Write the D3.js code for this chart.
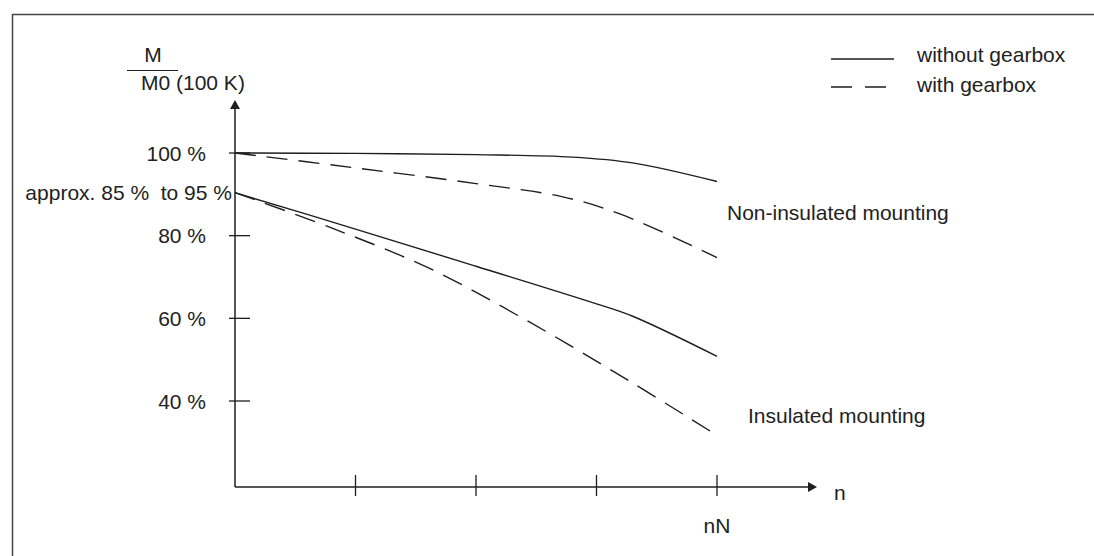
<!DOCTYPE html>
<html>
<head>
<meta charset="utf-8">
<script src="https://cdn.jsdelivr.net/npm/d3@7"></script>
<style>
  html, body { margin: 0; padding: 0; background: #fff; overflow: hidden; }
  svg text { font-family: "Liberation Sans", Arial, sans-serif; font-size: 21px; fill: #222; white-space: pre; }
</style>
</head>
<body>
<svg id="chart" width="1094" height="556"></svg>
<script>
// ---- data ----
const xTickValues = [1, 2, 3, 4];
const yTickValues = [100, 80, 60, 40];
const yTickLabels = ["100 %", "80 %", "60 %", "40 %"];
const startLabel = "approx. 85 %  to 95 %";
const seriesNames = ["without gearbox", "with gearbox"];
const nonInsulatedWithout = [[0, 100], [1, 99.9], [2, 99.6], [2.8, 99.0], [3.3, 97.6], [4, 93.1]];
const nonInsulatedWith = [[0, 100], [1, 96.4], [2, 92.6], [2.72, 89.4], [3.2, 85.2], [4, 74.7]];
const insulatedWithout = [[0, 90.4], [1, 81.6], [2, 72.6], [3, 63.5], [3.3, 60.5], [4, 50.8]];
const insulatedWith = [[0, 90.4], [0.79, 82.0], [1.62, 72.0], [2.45, 59.0], [3.28, 44.7], [3.95, 32.6]];
const axisBaseValue = 19.2;   // y value where the n-axis sits
const xAxisEnd = 4.83;        // arrow tip of n-axis
const yAxisTop = 112.8;       // arrow tip of M/M0 axis

// ---- layout ----
const svg = d3.select("#chart");
const x = d3.scaleLinear().domain([0, 4]).range([235, 717]);
const y = d3.scaleLinear().domain([40, 100]).range([401, 153]);
const ink = "#1e1e1e";

// frame
svg.append("path").attr("d", "M12.5,600 V14.5 H1200")
  .attr("fill", "none").attr("stroke", "#444").attr("stroke-width", 1.5);

// axes lines
const x0 = x(0), yb = y(axisBaseValue);
svg.append("line").attr("x1", x0).attr("y1", yb).attr("x2", x(xAxisEnd) - 8).attr("y2", yb)
  .attr("stroke", ink).attr("stroke-width", 1.5);
svg.append("path").attr("d", `M${x(xAxisEnd)},${yb} L${x(xAxisEnd) - 9},${yb - 5} L${x(xAxisEnd) - 9},${yb + 5} Z`).attr("fill", ink);
svg.append("line").attr("x1", x0).attr("y1", yb).attr("x2", x0).attr("y2", y(yAxisTop) + 8)
  .attr("stroke", ink).attr("stroke-width", 1.5);
svg.append("path").attr("d", `M${x0},${y(yAxisTop)} L${x0 - 5},${y(yAxisTop) + 9} L${x0 + 5},${y(yAxisTop) + 9} Z`).attr("fill", ink);

// x ticks
svg.selectAll(".xt").data(xTickValues).join("line")
  .attr("x1", d => x(d)).attr("x2", d => x(d)).attr("y1", yb - 12).attr("y2", yb + 9)
  .attr("stroke", ink).attr("stroke-width", 1.3);
// y ticks
svg.selectAll(".yt").data(yTickValues).join("line")
  .attr("y1", d => y(d)).attr("y2", d => y(d)).attr("x1", x0 - 6).attr("x2", x0 + 15)
  .attr("stroke", ink).attr("stroke-width", 1.3);
svg.selectAll(".yl").data(yTickValues).join("text")
  .attr("x", 206).attr("y", d => y(d) + 7.5).attr("text-anchor", "end")
  .text((d, i) => yTickLabels[i]);
svg.append("text").attr("x", 232).attr("y", y(insulatedWithout[0][1]) + 7).attr("text-anchor", "end").text(startLabel);

// axis titles
svg.append("text").attr("x", 153).attr("y", 62).attr("text-anchor", "middle").text("M");
svg.append("line").attr("x1", 127).attr("x2", 178).attr("y1", 70.5).attr("y2", 70.5).attr("stroke", ink).attr("stroke-width", 1.2);
svg.append("text").attr("x", 141).attr("y", 90).text("M0 (100 K)");
svg.append("text").attr("x", 834).attr("y", 500).text("n");
svg.append("text").attr("x", x(4)).attr("y", 533).attr("text-anchor", "middle").text("nN");

// curves
const line = d3.line().x(d => x(d[0])).y(d => y(d[1])).curve(d3.curveCatmullRom.alpha(0.5));
const curves = [
  { data: nonInsulatedWithout, dash: null },
  { data: nonInsulatedWith, dash: "21,11" },
  { data: insulatedWithout, dash: null },
  { data: insulatedWith, dash: "21,11" }
];
svg.selectAll(".curve").data(curves).join("path")
  .attr("d", d => line(d.data)).attr("fill", "none").attr("stroke", ink).attr("stroke-width", 1.4)
  .attr("stroke-dasharray", d => d.dash);

// curve labels
svg.append("text").attr("x", 727).attr("y", 220).text("Non-insulated mounting");
svg.append("text").attr("x", 748).attr("y", 423).text("Insulated mounting");

// legend
const legendRows = [{ y: 59, dash: null, x2: 894 }, { y: 87, dash: "21,13", x2: 886 }];
legendRows.forEach((r, i) => {
  svg.append("line").attr("x1", 831).attr("x2", r.x2).attr("y1", r.y).attr("y2", r.y)
    .attr("stroke", ink).attr("stroke-width", 1.5).attr("stroke-dasharray", r.dash);
  svg.append("text").attr("x", 917).attr("y", r.y + 3 + i * 2).text(seriesNames[i]);
});
</script>
</body>
</html>
